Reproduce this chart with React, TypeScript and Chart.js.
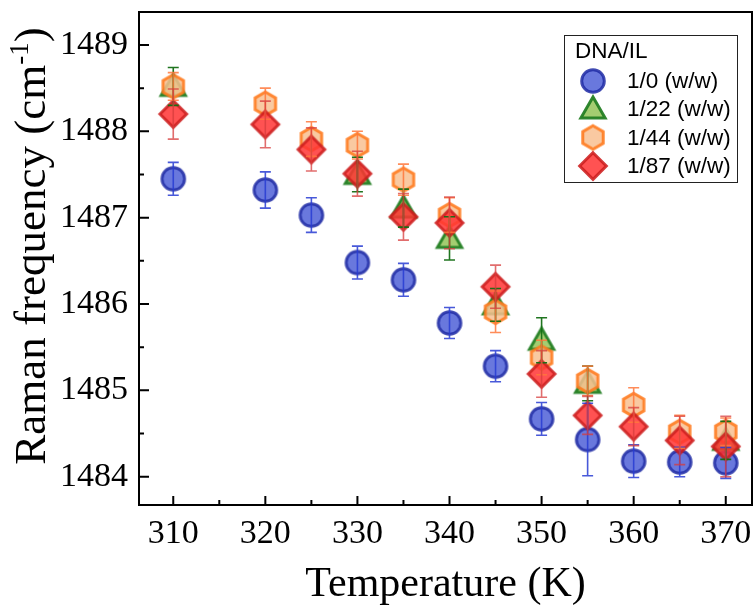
import React, { useEffect, useRef } from 'react';
import { Chart, registerables } from 'chart.js';

Chart.register(...registerables);

// ---------- data ----------
const temperatures = [310, 320, 325, 330, 335, 340, 345, 350, 355, 360, 365, 370];

const seriesNames = ['1/0 (w/w)', '1/22 (w/w)', '1/44 (w/w)', '1/87 (w/w)'];
const legendTitle = 'DNA/IL';

const blueX = temperatures;
const blueY = [1487.45, 1487.32, 1487.03, 1486.48, 1486.28, 1485.78, 1485.28, 1484.67, 1484.43, 1484.18, 1484.17, 1484.16];
const blueErr = [0.19, 0.21, 0.2, 0.19, 0.19, 0.18, 0.18, 0.19, 0.42, 0.19, 0.17, 0.18];

const greenX = [310, 330, 335, 340, 345, 350, 355, 370];
const greenY = [1488.52, 1487.5, 1487.11, 1486.76, 1485.99, 1485.58, 1485.08, 1484.42];
const greenErr = [0.22, 0.2, 0.22, 0.25, 0.19, 0.26, 0.2, 0.22];

const orangeX = temperatures;
const orangeY = [1488.52, 1488.32, 1487.91, 1487.84, 1487.44, 1487.03, 1485.91, 1485.38, 1485.11, 1484.83, 1484.52, 1484.52];
const orangeErr = [0.16, 0.18, 0.2, 0.16, 0.18, 0.2, 0.24, 0.2, 0.17, 0.2, 0.19, 0.16];

const redX = temperatures;
const redY = [1488.2, 1488.08, 1487.79, 1487.51, 1487.01, 1486.94, 1486.2, 1485.19, 1484.71, 1484.58, 1484.42, 1484.35];
const redErr = [0.29, 0.27, 0.25, 0.26, 0.27, 0.3, 0.25, 0.27, 0.22, 0.22, 0.28, 0.35];

const xTicks = [310, 320, 330, 340, 350, 360, 370];
const xMinorTicks = [315, 325, 335, 345, 355, 365];
const yTicks = [1484, 1485, 1486, 1487, 1488, 1489];
const yMinorTicks = [1484.5, 1485.5, 1486.5, 1487.5, 1488.5];

const xTitle = 'Temperature (K)';
const yTitleMain = 'Raman frequency (cm';
const yTitleSup = '-1';
const yTitleEnd = ')';

// ---------- marker images ----------
type Shape = 'circle' | 'triangle' | 'hexagon' | 'diamond';

function makeMarker(shape: Shape, fill: string, stroke: string): HTMLCanvasElement {
  const S = 36;
  const c = S / 2;
  const cv = document.createElement('canvas');
  cv.width = S;
  cv.height = S;
  const ctx = cv.getContext('2d')!;
  ctx.lineWidth = 3;
  ctx.lineJoin = 'miter';
  ctx.fillStyle = fill;
  ctx.strokeStyle = stroke;
  ctx.beginPath();
  if (shape === 'circle') {
    ctx.arc(c, c, 11.3, 0, Math.PI * 2);
  } else if (shape === 'triangle') {
    const r = 14;
    for (let k = 0; k < 3; k++) {
      const a = -Math.PI / 2 + (k * 2 * Math.PI) / 3;
      const px = c + r * Math.cos(a);
      const py = c + 2 + r * Math.sin(a);
      if (k === 0) ctx.moveTo(px, py);
      else ctx.lineTo(px, py);
    }
    ctx.closePath();
  } else if (shape === 'hexagon') {
    const r = 11.8;
    for (let k = 0; k < 6; k++) {
      const a = -Math.PI / 2 + (k * Math.PI) / 3;
      const px = c + r * Math.cos(a);
      const py = c + r * Math.sin(a);
      if (k === 0) ctx.moveTo(px, py);
      else ctx.lineTo(px, py);
    }
    ctx.closePath();
  } else {
    const r = 13.3;
    ctx.moveTo(c, c - r);
    ctx.lineTo(c + r, c);
    ctx.lineTo(c, c + r);
    ctx.lineTo(c - r, c);
    ctx.closePath();
  }
  ctx.fill();
  ctx.stroke();
  return cv;
}

export default function App() {
  const canvasRef = useRef<HTMLCanvasElement | null>(null);

  useEffect(() => {
    const canvas = canvasRef.current;
    if (!canvas) return;

    const markers = [
      makeMarker('circle', 'rgba(72,90,214,0.82)', 'rgba(32,44,165,0.85)'),
      makeMarker('triangle', 'rgba(148,196,88,0.85)', 'rgba(32,125,32,0.92)'),
      makeMarker('hexagon', 'rgba(248,192,145,0.85)', 'rgba(255,122,30,0.88)'),
      makeMarker('diamond', 'rgba(255,52,52,0.85)', 'rgba(205,30,30,0.88)'),
    ];
    const errColors = [
      'rgba(40,60,210,0.85)',
      'rgba(20,110,20,0.95)',
      'rgba(255,120,60,0.85)',
      'rgba(215,60,60,0.75)',
    ];
    const xs = [blueX, greenX, orangeX, redX];
    const ys = [blueY, greenY, orangeY, redY];
    const errs = [blueErr, greenErr, orangeErr, redErr];
    const orders = [4, 3, 2, 1];

    const datasets = xs.map((xArr, si) => ({
      label: seriesNames[si],
      data: xArr.map((x, i) => ({ x, y: ys[si][i] })),
      pointStyle: markers[si] as any,
      pointRadius: 12,
      pointHoverRadius: 12,
      showLine: false,
      order: orders[si],
    }));

    const errorBars = {
      id: 'errorBars',
      afterDatasetsDraw(chart: any) {
        const ctx = chart.ctx;
        const yScale = chart.scales.y;
        ctx.save();
        chart.data.datasets.forEach((_: any, si: number) => {
          const meta = chart.getDatasetMeta(si);
          ctx.strokeStyle = errColors[si];
          ctx.lineWidth = 1.6;
          meta.data.forEach((pt: any, i: number) => {
            const x = pt.x;
            const yv = ys[si][i];
            const e = errs[si][i];
            const yt = yScale.getPixelForValue(yv + e);
            const yb = yScale.getPixelForValue(yv - e);
            ctx.beginPath();
            ctx.moveTo(x, yt);
            ctx.lineTo(x, yb);
            ctx.moveTo(x - 5.5, yt);
            ctx.lineTo(x + 5.5, yt);
            ctx.moveTo(x - 5.5, yb);
            ctx.lineTo(x + 5.5, yb);
            ctx.stroke();
          });
        });
        ctx.restore();
      },
    };

    const frame = {
      id: 'frame',
      afterDraw(chart: any) {
        const ctx = chart.ctx;
        const a = chart.chartArea;
        const xS = chart.scales.x;
        const yS = chart.scales.y;
        ctx.save();
        ctx.strokeStyle = '#000';
        ctx.lineWidth = 2;
        ctx.strokeRect(a.left, a.top, a.right - a.left, a.bottom - a.top);
        ctx.lineWidth = 2;
        ctx.beginPath();
        xTicks.forEach((v) => {
          const px = xS.getPixelForValue(v);
          ctx.moveTo(px, a.bottom);
          ctx.lineTo(px, a.bottom - 9);
        });
        xMinorTicks.forEach((v) => {
          const px = xS.getPixelForValue(v);
          ctx.moveTo(px, a.bottom);
          ctx.lineTo(px, a.bottom - 5);
        });
        yTicks.forEach((v) => {
          const py = yS.getPixelForValue(v);
          ctx.moveTo(a.left, py);
          ctx.lineTo(a.left + 10, py);
        });
        yMinorTicks.forEach((v) => {
          const py = yS.getPixelForValue(v);
          ctx.moveTo(a.left, py);
          ctx.lineTo(a.left + 5, py);
        });
        ctx.stroke();

        // axis titles
        ctx.fillStyle = '#000';
        ctx.font = '42px "Liberation Serif", "Times New Roman", serif';
        ctx.textAlign = 'center';
        ctx.textBaseline = 'alphabetic';
        ctx.fillText(xTitle, (a.left + a.right) / 2, 596);

        ctx.save();
        ctx.translate(45, 246);
        ctx.rotate(-Math.PI / 2);
        const mainFont = '45px "Liberation Serif", "Times New Roman", serif';
        const supFont = '27px "Liberation Serif", "Times New Roman", serif';
        ctx.font = mainFont;
        const w1 = ctx.measureText(yTitleMain).width;
        const w3 = ctx.measureText(yTitleEnd).width;
        ctx.font = supFont;
        const w2 = ctx.measureText(yTitleSup).width;
        const total = w1 + w2 + w3;
        let cx = -total / 2;
        ctx.textAlign = 'left';
        ctx.font = mainFont;
        ctx.fillText(yTitleMain, cx, 0);
        cx += w1;
        ctx.font = supFont;
        ctx.fillText(yTitleSup, cx, -17);
        cx += w2;
        ctx.font = mainFont;
        ctx.fillText(yTitleEnd, cx, 0);
        ctx.restore();

        // legend
        const lx = 564, ly = 35, lw = 173, lh = 147;
        ctx.fillStyle = '#fff';
        ctx.fillRect(lx, ly, lw, lh);
        ctx.strokeStyle = '#222';
        ctx.lineWidth = 1;
        ctx.strokeRect(lx + 0.5, ly + 0.5, lw, lh);
        ctx.fillStyle = '#000';
        ctx.font = '22.5px "Liberation Sans", Arial, sans-serif';
        ctx.textAlign = 'left';
        ctx.textBaseline = 'middle';
        ctx.fillText(legendTitle, 575, 52);
        const rowY = [81, 109, 137.5, 166];
        seriesNames.forEach((name, i) => {
          const m = markers[i];
          ctx.drawImage(m, 593 - m.width / 2, rowY[i] - m.height / 2);
          ctx.fillText(name, 627, rowY[i] + 1);
        });
        ctx.restore();
      },
    };

    const tickFont = { family: '"Liberation Serif", "Times New Roman", serif', size: 34 };

    const zeroPad = (scale: any) => {
      scale.paddingTop = 0;
      scale.paddingBottom = 0;
      scale.paddingLeft = 0;
      scale.paddingRight = 0;
    };

    const chart = new Chart(canvas, {
      type: 'scatter',
      data: { datasets: datasets as any },
      options: {
        animation: false,
        responsive: false,
        maintainAspectRatio: false,
        layout: { autoPadding: false, padding: { top: 12, right: 1, left: 0, bottom: 0 } },
        plugins: {
          legend: { display: false },
          tooltip: { enabled: false },
        },
        scales: {
          x: {
            type: 'linear',
            min: 306.28,
            max: 372.85,
            grid: { display: false, drawTicks: false },
            border: { display: false },
            ticks: {
              font: tickFont,
              color: '#000',
              padding: 9,
              maxRotation: 0,
              autoSkip: false,
              callback: (v: any) => String(v),
            },
            afterBuildTicks: (scale: any) => {
              scale.ticks = xTicks.map((v) => ({ value: v }));
            },
            afterFit: (scale: any) => {
              scale.height = 109;
              zeroPad(scale);
            },
          },
          y: {
            type: 'linear',
            min: 1483.672,
            max: 1489.382,
            grid: { display: false, drawTicks: false },
            border: { display: false },
            ticks: {
              font: tickFont,
              color: '#000',
              padding: 11,
              autoSkip: false,
              callback: (v: any) => String(v),
            },
            afterBuildTicks: (scale: any) => {
              scale.ticks = yTicks.map((v) => ({ value: v }));
            },
            afterFit: (scale: any) => {
              scale.width = 139;
              zeroPad(scale);
            },
          },
        },
      },
      plugins: [errorBars, frame],
    });

    return () => {
      chart.destroy();
    };
  }, []);

  return (
    <div style={{ position: 'absolute', left: 0, top: 0, width: 753, height: 614, background: '#fff' }}>
      <canvas ref={canvasRef} width={753} height={614} style={{ width: 753, height: 614, display: 'block' }} />
    </div>
  );
}
